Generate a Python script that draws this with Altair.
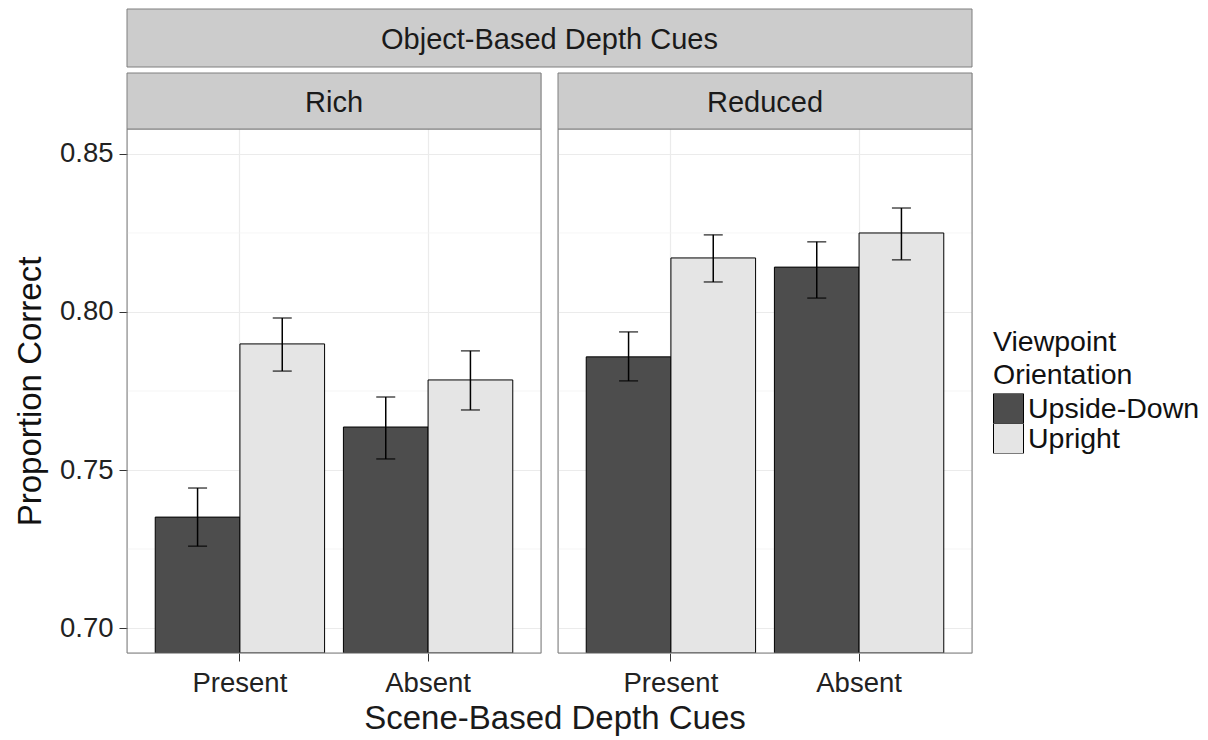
import altair as alt
import pandas as pd

scene = ["Present", "Absent"]
orientation = ["Upside-Down", "Upright"]
objects = ["Rich", "Reduced"]
outer_label = "Object-Based Depth Cues"
x_title = "Scene-Based Depth Cues"
y_title = "Proportion Correct"

# order: Present/Upside-Down, Present/Upright, Absent/Upside-Down, Absent/Upright
rich_mean = [0.7351, 0.7899, 0.7636, 0.7785]
rich_lo = [0.7259, 0.7813, 0.7535, 0.7690]
rich_hi = [0.7443, 0.7981, 0.7731, 0.7877]
reduced_mean = [0.7858, 0.8171, 0.8142, 0.8250]
reduced_lo = [0.7782, 0.8095, 0.8044, 0.8165]
reduced_hi = [0.7937, 0.8244, 0.8222, 0.8329]

major_y = [0.70, 0.75, 0.80, 0.85]
minor_y = [0.725, 0.775, 0.825]
y_domain = [0.6921, 0.8579]
fills = ["#4D4D4D", "#E5E5E5"]

FONT = "Liberation Sans"

rows = []
for obj, m, lo, hi in [("Rich", rich_mean, rich_lo, rich_hi),
                       ("Reduced", reduced_mean, reduced_lo, reduced_hi)]:
    i = 0
    for s in scene:
        for o in orientation:
            rows.append({"obj": obj, "scene": s, "orient": o,
                         "mean": m[i], "lo": lo[i], "hi": hi[i], "base": y_domain[0]})
            i += 1
df = pd.DataFrame(rows)
minor_df = pd.DataFrame({"y": minor_y})

PW = 414      # panel width
SH = 56       # strip height
PH = 524      # plot height
H = SH + PH
yscale = alt.Scale(domain=y_domain, zero=False, nice=False, range=[H, SH])

legend = alt.Legend(
    title=["Viewpoint", "Orientation"], orient="none", legendX=866, legendY=255,
    titleFont=FONT, titleFontSize=28.5, titleFontWeight="normal", titleColor="#111111",
    titleLineHeight=33, titlePadding=4, labelFont=FONT, labelFontSize=28.5,
    labelColor="#111111", labelOffset=4, labelLimit=400, titleLimit=400,
    symbolType="square", symbolSize=900, symbolStrokeColor="black",
    symbolStrokeWidth=1, symbolOpacity=1, rowPadding=0, clipHeight=30, padding=0,
)


def text_layer(label, x, y, size):
    return alt.Chart(pd.DataFrame({"label": [label]})).mark_text(
        font=FONT, fontSize=size, color="#1A1A1A", baseline="middle", align="center"
    ).encode(text="label:N", x=alt.value(x), y=alt.value(y))


def box_layer(x, x2, y, y2, fill):
    return alt.Chart(pd.DataFrame({"k": [0]})).mark_rect(
        fill=fill, stroke="#7F7F7F", strokeWidth=1
    ).encode(x=alt.value(x), x2=alt.value(x2), y=alt.value(y), y2=alt.value(y2))


def panel(name, first):
    d = df[df.obj == name]
    base = alt.Chart(d)
    xenc = alt.X(
        "scene:N", sort=scene,
        scale=alt.Scale(paddingInner=0.1, paddingOuter=0.15),
        axis=alt.Axis(title=None, labelFont=FONT, labelFontSize=27.5, labelColor="#222222",
                      labelAngle=0, tickSize=8, tickColor="#333333", tickWidth=1,
                      domain=False, grid=True, gridColor="#EBEBEB", gridWidth=1.2,
                      labelPadding=8, bandPosition=0.5),
    )
    xoff = alt.XOffset("orient:N", sort=orientation,
                       scale=alt.Scale(paddingInner=0, paddingOuter=0))
    if first:
        yaxis = alt.Axis(values=major_y, format=".2f", title=y_title,
                         titleFont=FONT, titleFontSize=33, titleFontWeight="normal",
                         titleColor="#111111", titlePadding=12, titleY=(SH + H) / 2,
                         labelFont=FONT, labelFontSize=27.5, labelColor="#222222",
                         tickSize=8, tickColor="#333333", labelPadding=6,
                         domain=False, grid=True, gridColor="#EBEBEB", gridWidth=1.2)
    else:
        yaxis = alt.Axis(values=major_y, title=None, labels=False, ticks=False,
                         domain=False, grid=True, gridColor="#EBEBEB", gridWidth=1.2)
    minor = alt.Chart(minor_df).mark_rule(color="#F3F3F3", strokeWidth=0.8).encode(
        y=alt.Y("y:Q", scale=yscale, axis=yaxis)
    )
    bars = base.mark_bar(stroke="black", strokeWidth=1, clip=True).encode(
        x=xenc, xOffset=xoff,
        y=alt.Y("mean:Q", scale=yscale, axis=yaxis),
        y2="base:Q",
        color=alt.Color("orient:N", sort=orientation,
                        scale=alt.Scale(domain=orientation, range=fills), legend=legend),
    )
    err = base.mark_rule(color="black", strokeWidth=1.5).encode(
        x=xenc, xOffset=xoff, y=alt.Y("lo:Q", scale=yscale, axis=yaxis), y2="hi:Q"
    )
    cap_lo = base.mark_tick(color="black", thickness=1.5, size=19).encode(
        x=xenc, xOffset=xoff, y=alt.Y("lo:Q", scale=yscale, axis=yaxis)
    )
    cap_hi = base.mark_tick(color="black", thickness=1.5, size=19).encode(
        x=xenc, xOffset=xoff, y=alt.Y("hi:Q", scale=yscale, axis=yaxis)
    )
    layers = [minor, bars, err, cap_lo, cap_hi,
              box_layer(0, PW, SH, H, "transparent"),
              box_layer(0, PW, 0, SH, "#CCCCCC"),
              text_layer(name, PW / 2, SH / 2 + 2, 29)]
    if first:
        layers += [box_layer(0, 845, -64, -6, "#CCCCCC"),
                   text_layer(outer_label, 845 / 2, -33, 29),
                   text_layer(x_title, 428, 646, 33)]
    return alt.layer(*layers).properties(width=PW, height=H)


chart = alt.hconcat(panel("Rich", True), panel("Reduced", False),
                    spacing=17, bounds="flush").properties(
    padding={"left": 5, "top": 0, "right": 0, "bottom": 0}
).configure_view(stroke="transparent").configure(background="white")

chart.save("out.html", embed_options={"renderer": "svg", "actions": False})
